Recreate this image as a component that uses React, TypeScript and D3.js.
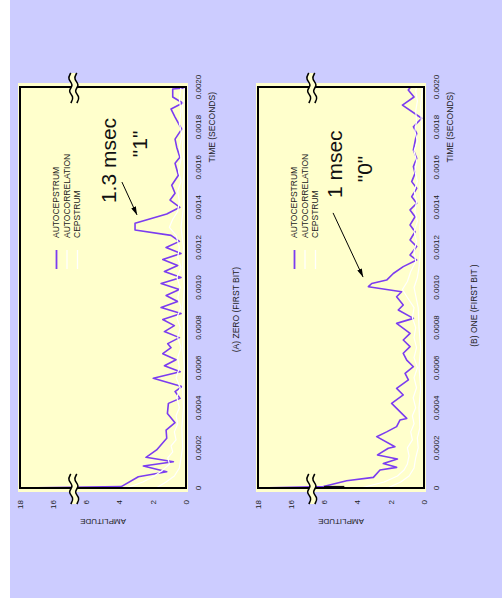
import React, { useEffect, useRef } from 'react';
import * as d3 from 'd3';

const timeTicks = [0, 2, 4, 6, 8, 10, 12, 14, 16, 18, 20];
const timeTickLabels = ['0', '0.0002', '0.0004', '0.0006', '0.0008', '0.0010', '0.0012', '0.0014', '0.0016', '0.0018', '0.0020'];
const ampTicks = [0, 2, 4, 6, 16, 18];
const legendLabels = ['AUTOCEPSTRUM', 'AUTOCORRELATION', 'CEPSTRUM'];

// (A) zero (first bit)
const autocepstrumA = [
  [0, 18], [0.07, 3.9], [0.56, 2.87], [0.81, 1.16], [1.1, 2.57], [1.31, 0.76], [1.53, 2.41], [1.9, 1.77],
  [2.48, 1.16], [2.89, 1.2], [3.26, 0.66], [3.72, 1.12], [4.22, 1.06], [4.47, 0.36], [4.81, 0.66], [5.06, 0.26],
  [5.47, 1.97], [5.8, 0.35], [6.1, 1.3], [6.4, 0.6], [6.7, 1.4], [7.0, 0.9], [7.2, 1.1], [7.5, 0.4], [7.8, 1.3],
  [8.1, 0.7], [8.4, 1.4], [8.7, 0.3], [9.0, 1.5], [9.3, 0.5], [9.6, 1.2], [9.9, 0.4], [10.2, 1.5], [10.5, 0.3],
  [10.8, 1.3], [11.1, 0.5], [11.4, 1.4], [11.7, 0.3], [12.0, 1.2], [12.3, 0.4], [12.6, 0.9], [12.87, 3.07],
  [13.2, 3.07], [13.67, 1.16], [14.0, 0.37], [14.36, 0.96], [14.7, 0.66], [15.1, 0.86], [15.6, 0.46], [16.2, 0.66],
  [16.5, 0.37], [17.0, 0.56], [17.4, 0.66], [17.9, 0.26], [18.5, 0.66], [18.9, 0.9], [19.2, 0.2], [19.5, 0.8],
  [19.9, 0.8], [19.95, 0.1], [20, 0.1],
];
const autocorrelationA = [
  [0, 3.6], [0.3, 2.6], [0.6, 1.9], [0.9, 1.4], [1.2, 1.0], [1.5, 1.1], [1.8, 0.8], [2.1, 0.9], [2.4, 0.6],
  [2.8, 0.7], [3.2, 0.5], [3.6, 0.6], [4.0, 0.4], [4.5, 0.55], [5.0, 0.35], [5.5, 0.6], [6.0, 0.4], [6.5, 0.5],
  [7.0, 0.3], [7.5, 0.5], [8.0, 0.35], [8.5, 0.55], [9.0, 0.3], [9.5, 0.5], [10.0, 0.35], [10.5, 0.55], [11.0, 0.3],
  [11.5, 0.5], [12.0, 0.4], [12.6, 0.6], [13.0, 1.0], [13.4, 0.8], [13.8, 0.5], [14.3, 0.4], [14.8, 0.5],
  [15.3, 0.3], [15.8, 0.45], [16.4, 0.3], [17.0, 0.4], [17.6, 0.25], [18.2, 0.4], [18.8, 0.3], [19.4, 0.4], [20, 0.3],
];
const cepstrumA = [
  [0, 1.8], [0.3, 1.2], [0.6, 0.7], [1.0, 0.4], [1.5, 0.3], [2.0, 0.2], [3.0, 0.25], [4.0, 0.15], [5.0, 0.2],
  [6.0, 0.1], [7.0, 0.2], [8.0, 0.15], [9.0, 0.2], [10.0, 0.1], [11.0, 0.2], [12.0, 0.15], [13.0, 0.3], [14.0, 0.15],
  [15.0, 0.2], [16.0, 0.1], [17.0, 0.2], [18.0, 0.15], [19.0, 0.2], [20.0, 0.1],
];

// (B) one (first bit)
const autocepstrumB = [
  [0, 18], [0.07, 6.3], [0.36, 4.66], [0.53, 3.05], [0.9, 2.65], [1.03, 1.65], [1.22, 2.45], [1.45, 1.6],
  [1.65, 2.8], [1.98, 2.15], [2.06, 1.75], [2.56, 2.85], [2.8, 2.25], [3.06, 1.65], [3.39, 1.45], [3.47, 1.04],
  [4.22, 1.95], [4.64, 1.25], [4.97, 1.65], [5.39, 0.94], [5.72, 1.14], [6.05, 0.64], [6.38, 1.04], [6.72, 1.25],
  [7.05, 0.84], [7.38, 1.25], [7.71, 0.84], [8.21, 1.65], [8.46, 0.64], [8.88, 1.55], [9.13, 1.25], [9.54, 1.65],
  [9.79, 1.35], [10.04, 3.35], [10.2, 3.15], [10.37, 2.25], [10.7, 1.85], [11.04, 1.25], [11.37, 0.44],
  [11.62, 0.84], [12.04, 0.44], [12.37, 0.84], [12.78, 0.54], [13.12, 0.84], [13.53, 0.54], [13.87, 0.84],
  [14.2, 0.44], [14.53, 0.74], [14.95, 0.44], [15.28, 0.74], [15.69, 0.54], [16.03, 0.64], [16.44, 0.44],
  [16.86, 0.64], [17.27, 0.54], [17.69, 0.44], [18.02, 0.64], [18.44, 0.14], [19.1, 1.3], [19.5, 0.6],
  [19.85, 0.95], [20, 0.8],
];
const autocorrelationB = [
  [0, 3.8], [0.3, 2.4], [0.6, 1.6], [0.9, 1.2], [1.2, 1.0], [1.6, 0.9], [2.0, 1.0], [2.4, 0.7], [2.8, 0.8],
  [3.2, 0.6], [3.6, 0.7], [4.0, 0.5], [4.5, 0.65], [5.0, 0.45], [5.5, 0.6], [6.0, 0.4], [6.5, 0.6], [7.0, 0.45],
  [7.5, 0.6], [8.0, 0.5], [8.5, 0.7], [9.0, 0.6], [9.5, 1.0], [9.9, 1.3], [10.3, 1.0], [10.8, 0.8], [11.3, 0.5],
  [11.8, 0.6], [12.3, 0.45], [12.8, 0.6], [13.3, 0.4], [13.8, 0.55], [14.3, 0.45], [14.8, 0.6], [15.3, 0.4],
  [15.8, 0.55], [16.3, 0.45], [16.8, 0.6], [17.3, 0.4], [17.8, 0.55], [18.3, 0.45], [18.8, 0.5], [19.3, 0.4],
  [19.8, 0.5], [20, 0.45],
];
const cepstrumB = [
  [0, 2.2], [0.3, 1.4], [0.6, 0.9], [1.0, 0.6], [1.5, 0.5], [2.0, 0.35], [2.5, 0.4], [3.0, 0.25], [4.0, 0.3],
  [5.0, 0.2], [6.0, 0.3], [7.0, 0.2], [8.0, 0.3], [9.0, 0.35], [10.0, 0.6], [10.5, 0.4], [11.0, 0.3], [12.0, 0.2],
  [13.0, 0.25], [14.0, 0.15], [15.0, 0.25], [16.0, 0.15], [17.0, 0.2], [18.0, 0.15], [19.0, 0.2], [20.0, 0.1],
];
// short dark stroke at t = 0 in panel B
const darkMarkB = [[0.03, 6.1], [0.03, 4.8]];

const panels = [
  {
    offsetX: 20,
    caption: '(A) ZERO (FIRST BIT)',
    series: [autocepstrumA, autocorrelationA, cepstrumA],
    mark: null,
    title: '1.3 msec', titleAt: [14.21, 4.2],
    bit: '"1"', bitAt: [17.16, 2.35],
    arrow: [[15.26, 3.86], [13.62, 2.95]],
    captionAt: 8.9,
  },
  {
    offsetX: 258,
    caption: '(B) ONE (FIRST BIT )',
    series: [autocepstrumB, autocorrelationB, cepstrumB],
    mark: darkMarkB,
    title: '1 msec', titleAt: [14.46, 4.94],
    bit: '"0"', bitAt: [15.91, 3.13],
    arrow: [[13.72, 5.48], [10.52, 3.67]],
    captionAt: 9.1,
  },
];

const width = 502;
const height = 600;
const W = 401; // time axis length
const H = 166; // amplitude axis length
const bottomY = 488;
const purple = '#7b3cf0';
const font = '"Liberation Sans", Arial, sans-serif';

const App = () => {
  const svgRef = useRef(null);

  useEffect(() => {
    const svg = d3.select(svgRef.current);
    svg.selectAll('*').remove();

    svg.append('rect').attr('x', 10).attr('y', 0).attr('width', width - 10).attr('height', 598).attr('fill', '#ccccff');

    svg.append('defs').append('marker')
      .attr('id', 'arrow')
      .attr('viewBox', '0 0 10 6')
      .attr('refX', 10).attr('refY', 3)
      .attr('markerWidth', 9).attr('markerHeight', 5)
      .attr('markerUnits', 'userSpaceOnUse')
      .attr('orient', 'auto')
      .append('path').attr('d', 'M0,0 L10,3 L0,6 Z').attr('fill', '#000');

    const x = d3.scaleLinear().domain([0, 20]).range([0, W]);
    // broken amplitude axis: 0..6, then 16..18
    const y = d3.scaleLinear().domain([0, 6, 16, 18]).range([H, H * 0.4, H * 0.2, 0]);
    const line = d3.line().x((d) => x(d[0])).y((d) => y(d[1]));
    const colors = [purple, '#ffffff', '#ffffff'];

    panels.forEach((p) => {
      const g = svg.append('g').attr('transform', `translate(${p.offsetX}, ${bottomY}) rotate(-90)`);

      // plot area
      g.append('rect').attr('x', -4).attr('y', -2).attr('width', W + 8).attr('height', H + 4).attr('fill', '#ffffcc');

      p.series.forEach((s, i) => {
        g.append('path').datum(s).attr('d', line).attr('fill', 'none')
          .attr('stroke', colors[i]).attr('stroke-width', i === 0 ? 1.6 : 1.2).attr('stroke-linejoin', 'round');
      });
      if (p.mark) {
        g.append('path').datum(p.mark).attr('d', line).attr('stroke', '#111').attr('stroke-width', 3);
      }

      g.append('rect').attr('x', 0).attr('y', 0).attr('width', W).attr('height', H)
        .attr('fill', 'none').attr('stroke', '#000').attr('stroke-width', 2);

      // axis breaks
      const yb = (y(6) + y(16)) / 2 + 4;
      const wave = d3.line().curve(d3.curveBasis);
      const rel = [[-16, 0], [-10, 5], [-4, -5], [2, 5], [8, -5], [14, 0]];
      [0, W].forEach((cx) => {
        const band = d3.area().curve(d3.curveBasis)
          .x((d) => cx + d[0]).y0((d) => yb - 3 + d[1] * 0.7).y1((d) => yb + 3 + d[1] * 0.7);
        g.append('path').datum(rel).attr('d', band).attr('fill', '#ffffcc');
        [-3, 3].forEach((off) => {
          g.append('path').datum(rel.map((d) => [cx + d[0], yb + off + d[1] * 0.7]))
            .attr('d', wave).attr('fill', 'none').attr('stroke', '#000').attr('stroke-width', 1.5);
        });
      });

      // time axis labels
      g.selectAll('.tt').data(timeTicks).enter().append('text')
        .attr('x', (d) => x(d)).attr('y', H + 15)
        .attr('text-anchor', 'middle').attr('font-size', 8).attr('font-family', font).attr('fill', '#222')
        .text((d, i) => timeTickLabels[i]);
      g.append('text').attr('x', W - 5).attr('y', H + 29).attr('text-anchor', 'end')
        .attr('font-size', 8.5).attr('font-family', font).attr('fill', '#222').text('TIME (SECONDS)');
      g.append('text').attr('x', x(p.captionAt)).attr('y', H + 53).attr('text-anchor', 'middle')
        .attr('font-size', 8.5).attr('font-family', font).attr('fill', '#222').text(p.caption);

      // amplitude axis labels
      g.selectAll('.at').data(ampTicks).enter().append('text')
        .attr('x', -12).attr('y', (d) => y(d)).attr('dy', '0.35em')
        .attr('text-anchor', 'end').attr('font-size', 8).attr('font-family', font).attr('fill', '#222')
        .text((d) => d);
      g.append('text').attr('transform', `translate(-31, ${H / 2}) rotate(-90)`).attr('text-anchor', 'middle')
        .attr('font-size', 8).attr('font-family', font).attr('fill', '#222').text('AMPLITUDE');

      // legend
      legendLabels.forEach((label, i) => {
        const ly = 36.5 + i * 10.5;
        g.append('line').attr('x1', 219).attr('x2', 238).attr('y1', ly).attr('y2', ly)
          .attr('stroke', colors[i]).attr('stroke-width', i === 0 ? 1.8 : 1.3);
        g.append('text').attr('x', 250).attr('y', ly).attr('dy', '0.35em')
          .attr('font-size', 8.5).attr('font-family', font).attr('fill', '#222').text(label);
      });

      // annotation
      g.append('text').attr('x', x(p.titleAt[0])).attr('y', y(p.titleAt[1]))
        .attr('font-size', 21).attr('font-family', font).attr('fill', '#111').text(p.title);
      g.append('text').attr('x', x(p.bitAt[0])).attr('y', y(p.bitAt[1])).attr('text-anchor', 'middle')
        .attr('font-size', 21).attr('font-family', font).attr('fill', '#111').text(p.bit);
      g.append('line')
        .attr('x1', x(p.arrow[0][0])).attr('y1', y(p.arrow[0][1]))
        .attr('x2', x(p.arrow[1][0])).attr('y2', y(p.arrow[1][1]))
        .attr('stroke', '#000').attr('stroke-width', 1).attr('marker-end', 'url(#arrow)');
    });
  }, []);

  return (
    <svg ref={svgRef} width={width} height={height} style={{ position: 'absolute', left: 0, top: 0, background: '#fff' }}></svg>
  );
};

export default App;
